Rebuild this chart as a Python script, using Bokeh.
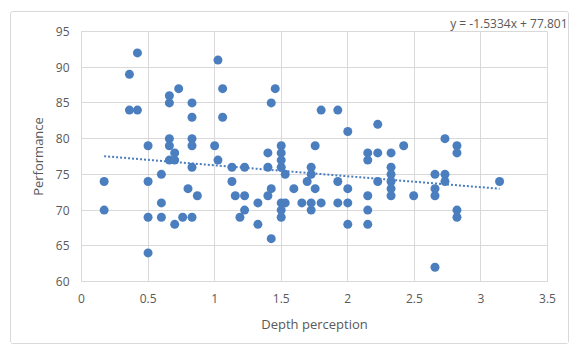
from bokeh.plotting import figure
from bokeh.models import FixedTicker, Range1d
from bokeh.embed import file_html
from bokeh.resources import INLINE

# Data
depth = [0.17, 0.17,
         0.36, 0.36,
         0.42, 0.42,
         0.5, 0.5, 0.5, 0.5,
         0.6, 0.6, 0.6,
         0.66, 0.66, 0.66, 0.66, 0.66,
         0.7, 0.7, 0.7,
         0.73, 0.76, 0.8,
         0.83, 0.83, 0.83, 0.83, 0.83, 0.83,
         0.87, 1.0,
         1.025, 1.025,
         1.06, 1.06,
         1.13, 1.13,
         1.155, 1.19,
         1.225, 1.225, 1.225,
         1.325, 1.325,
         1.4, 1.4, 1.4,
         1.425, 1.425, 1.425,
         1.455,
         1.5, 1.5, 1.5, 1.5, 1.5, 1.5, 1.5,
         1.53, 1.53,
         1.595, 1.655, 1.695,
         1.725, 1.725, 1.725, 1.725,
         1.755, 1.755,
         1.8, 1.8,
         1.925, 1.925, 1.925,
         2.0, 2.0, 2.0, 2.0,
         2.15, 2.15, 2.15, 2.15, 2.15,
         2.225, 2.225, 2.225,
         2.325, 2.325, 2.325, 2.325, 2.325, 2.325,
         2.42, 2.495,
         2.655, 2.655, 2.655, 2.655,
         2.73, 2.73, 2.73,
         2.82, 2.82, 2.82, 2.82,
         3.14]
performance = [74, 70,
               89, 84,
               92, 84,
               79, 74, 69, 64,
               75, 71, 69,
               86, 85, 80, 79, 77,
               78, 77, 68,
               87, 69, 73,
               85, 83, 80, 79, 76, 69,
               72, 79,
               91, 77,
               87, 83,
               76, 74,
               72, 69,
               76, 72, 70,
               71, 68,
               78, 76, 72,
               85, 73, 66,
               87,
               79, 78, 77, 76, 71, 70, 69,
               75, 71,
               73, 71, 74,
               76, 75, 71, 70,
               79, 73,
               84, 71,
               84, 74, 71,
               81, 73, 71, 68,
               78, 77, 72, 70, 68,
               82, 78, 74,
               78, 76, 75, 74, 73, 72,
               79, 72,
               75, 73, 72, 62,
               80, 75, 74,
               79, 78, 70, 69,
               74]

x_ticks = [0, 0.5, 1, 1.5, 2, 2.5, 3, 3.5]
x_tick_labels = ["0", "0.5", "1", "1.5", "2", "2.5", "3", "3.5"]
y_ticks = [60, 65, 70, 75, 80, 85, 90, 95]
y_tick_labels = ["60", "65", "70", "75", "80", "85", "90", "95"]

slope = -1.5334
intercept = 77.801
equation = "y = -1.5334x + 77.801"

FONT = "Open Sans"
GREY = "#595959"
GRID = "#d9d9d9"
BLUE = "#4a7ebf"

p = figure(width=559, height=333, output_backend="svg", toolbar_location=None,
           x_range=Range1d(0, 3.5), y_range=Range1d(60, 95),
           min_border_left=70, min_border_right=23, min_border_top=16,
           min_border_bottom=64, title=equation, title_location="above")
p.margin = (11, 0, 0, 10)
p.styles = {"border": "1px solid #d9d9d9", "border-radius": "3px"}

p.title.align = "right"
p.title.offset = -20
p.title.standoff = 0
p.title.text_font = FONT
p.title.text_font_size = "12px"
p.title.text_font_style = "normal"
p.title.text_color = GREY
p.title.vertical_align = "bottom"

p.outline_line_color = GRID
p.background_fill_color = "white"
p.border_fill_color = "white"

p.xaxis.ticker = FixedTicker(ticks=x_ticks)
p.yaxis.ticker = FixedTicker(ticks=y_ticks)
p.xaxis.major_label_overrides = dict(zip(x_ticks, x_tick_labels))
p.yaxis.major_label_overrides = dict(zip(y_ticks, y_tick_labels))

for ax in (p.xaxis, p.yaxis):
    ax.axis_line_color = GRID
    ax.major_tick_line_color = None
    ax.minor_tick_line_color = None
    ax.major_tick_out = 0
    ax.major_tick_in = 0
    ax.minor_tick_out = 0
    ax.major_label_text_font = FONT
    ax.major_label_text_font_size = "12px"
    ax.major_label_text_color = GREY
    ax.axis_label_text_font = FONT
    ax.axis_label_text_font_size = "13px"
    ax.axis_label_text_font_style = "normal"
    ax.axis_label_text_color = GREY

p.xaxis.axis_label = "Depth perception"
p.yaxis.axis_label = "Performance"
p.xaxis.major_label_standoff = 12
p.yaxis.major_label_standoff = 12
p.xaxis.axis_label_standoff = 9
p.yaxis.axis_label_standoff = 6

p.xgrid.grid_line_color = GRID
p.ygrid.grid_line_color = GRID

# trendline across the data range
x0, x1 = min(depth), max(depth)
p.line([x0, x1], [slope * x0 + intercept, slope * x1 + intercept],
       line_color=BLUE, line_width=2, line_dash="2 2")

p.scatter(depth, performance, size=9, fill_color=BLUE, line_color=None)

open("out.html", "w").write(file_html(p, INLINE))
